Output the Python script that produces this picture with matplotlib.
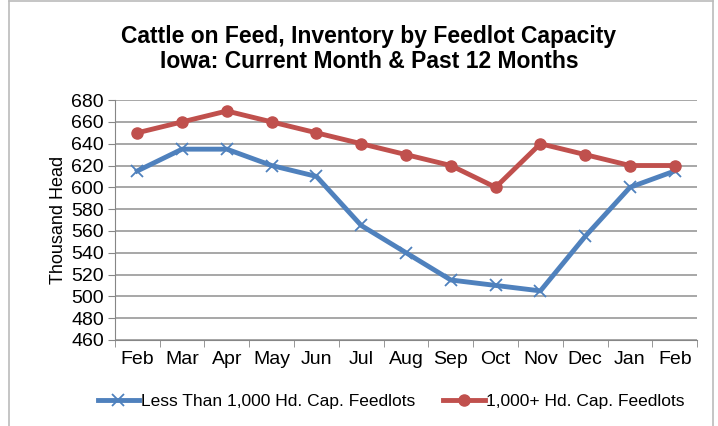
import matplotlib
matplotlib.use('Agg')
import matplotlib.pyplot as plt
from matplotlib.lines import Line2D
import numpy as np

months = ['Feb', 'Mar', 'Apr', 'May', 'Jun', 'Jul', 'Aug', 'Sep', 'Oct', 'Nov', 'Dec', 'Jan', 'Feb']
small_lots = [615, 635, 635, 620, 610, 565, 540, 515, 510, 505, 555, 600, 615]
large_lots = [650, 660, 670, 660, 650, 640, 630, 620, 600, 640, 630, 620, 620]

plt.rcParams['font.family'] = ['Liberation Sans', 'DejaVu Sans']

fig = plt.figure(figsize=(7.18, 4.26), dpi=100)
ax = fig.add_axes([0.160, 0.202, 0.811, 0.563])

x = np.arange(len(months))
ax.plot(x, small_lots, color='#4f81bd', lw=3.5, marker='x', ms=9, mew=1.3,
        label='Less Than 1,000 Hd. Cap. Feedlots', zorder=3)
ax.plot(x, large_lots, color='#c0504d', lw=3.5, marker='o', ms=8,
        label='1,000+ Hd. Cap. Feedlots', zorder=3)

ax.set_xlim(-0.5, len(months) - 0.5)
ax.set_ylim(460, 680)
ax.set_yticks(range(460, 681, 20))
ax.set_xticks(x)
ax.set_xticklabels(months)
ax.set_xticks(np.arange(-0.5, len(months), 1), minor=True)
ax.tick_params(axis='x', which='major', length=0, labelsize=14, pad=8)
ax.tick_params(axis='x', which='minor', length=5, color='#868686')
ax.tick_params(axis='y', length=5, color='#868686', labelsize=14, pad=3)
ax.grid(axis='y', color='#a0a0a0', lw=1.3)
ax.set_axisbelow(True)
for s in ['top', 'right']:
    ax.spines[s].set_visible(False)
for s in ['left', 'bottom']:
    ax.spines[s].set_color('#868686')
ax.set_ylabel('Thousand Head', fontsize=13, labelpad=3)

fig.text(0.514, 0.885, 'Cattle on Feed, Inventory by Feedlot Capacity\nIowa: Current Month & Past 12 Months',
         ha='center', va='center', fontsize=16.5, fontweight='bold', linespacing=1.1)

fig.legend(loc='center', bbox_to_anchor=(0.545, 0.058), ncol=2, frameon=False,
           fontsize=12.5, handlelength=2.4, columnspacing=1.6, handletextpad=0.1)

# chart border like the spreadsheet frame
fig.add_artist(Line2D([0.013, 0.013], [0, 0.997], color='#bbbbbb', lw=1.2))
fig.add_artist(Line2D([0.013, 0.993], [0.997, 0.997], color='#bbbbbb', lw=1.2))
fig.add_artist(Line2D([0.993, 0.993], [0, 0.997], color='#bbbbbb', lw=1.2))

plt.savefig('out.png', dpi=100)
